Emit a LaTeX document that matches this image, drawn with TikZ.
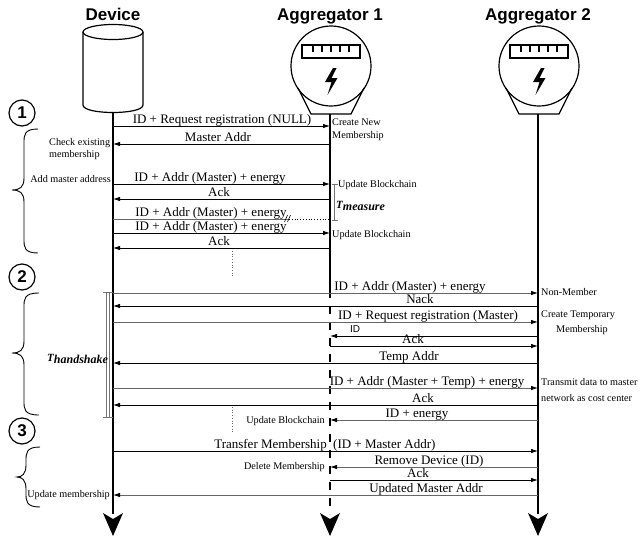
\documentclass[tikz,border=0pt]{standalone}
\usepackage{fontspec}
\setmainfont{Liberation Serif}
\newfontfamily\hsans{Liberation Sans}
\usetikzlibrary{arrows.meta}
\newcommand\mymsg[5]{%
  \coordinate (#1s) at (#3,#2);
  \coordinate (#1e) at (#4,#2);
  \draw[#5] (#1s) -- (#1e);}
\newcommand\mybrace[6]{%
  \draw[line width=0.9pt] (#1,#4) .. controls (#2,#4) and (#2,#4+6) .. (#2,#4+14)
    -- (#2,#5-12) .. controls (#2,#5-3) and (#2-4,#5) .. (#3,#5)
    .. controls (#2-4,#5) and (#2,#5+3) .. (#2,#5+12)
    -- (#2,#6-14) .. controls (#2,#6-6) and (#2,#6) .. (#1,#6);}
\newcommand\mymeter[1]{%
  \begin{scope}[shift={(#1,0)}]
    \draw[line width=1.2pt] (-33,88) -- (-20,114) -- (20,114) -- (33,88);
    \draw[line width=1.2pt] (0,66) circle[radius=40];
    \draw[line width=2.8pt] (-29,45) rectangle (29,58);
    \foreach \tx in {-18,-9,0,9,18} \draw[line width=1.8pt] (\tx,45) -- (\tx,52);
    \fill (2,68) -- (-6,82) -- (0.5,82) -- (-3.5,95) -- (6.5,78) -- (0.5,78) -- (5.5,68) -- cycle;
  \end{scope}}
\newcommand\myhead[1]{\fill (#1-10,513) -- (#1,536) -- (#1+10,513) -- (#1,519) -- cycle;}
\begin{document}
\begin{tikzpicture}[x=1pt,y=-1pt,
  msg/.style={line width=0.8pt,-{Latex[length=7pt,width=4.5pt]}},
  gmsg/.style={msg,draw=black!60,-{Latex[length=7pt,width=4.5pt,fill=black,color=black]}},
  lbl/.style={font=\fontsize{13}{13}\selectfont,inner sep=0pt,anchor=base},
  note/.style={font=\fontsize{10.2}{12}\selectfont,inner sep=0pt},
  hdr/.style={font=\hsans\bfseries\fontsize{17}{17}\selectfont,inner sep=0pt,anchor=base},
  life/.style={line width=1.4pt},
  numc/.style={circle,draw,line width=1.2pt,minimum size=26pt,inner sep=0pt,font=\hsans\bfseries\fontsize{17}{17}\selectfont},
  tlbl/.style={font=\bfseries\itshape\fontsize{12}{12}\selectfont,inner sep=0pt,anchor=base west}]
\useasboundingbox (0,0) rectangle (640,539);
\fill[white] (0,0) rectangle (640,539);
% headers
\node[hdr] (hD) at (113,20) {Device};
\node[hdr] (hA) at (330,20) {Aggregator 1};
\node[hdr] (hB) at (538,20) {Aggregator 2};
% device cylinder
\draw[line width=1.2pt] (83,32) -- (83,105) .. controls (83,115) and (143,115) .. (143,105) -- (143,32);
\draw[line width=1.2pt] (113,32) ellipse[x radius=30,y radius=7.5];
% meters
\mymeter{331}
\mymeter{539}
% lifelines
\coordinate (Dtop) at (113,113); \coordinate (Dbot) at (113,514);
\coordinate (Atop) at (330,114); \coordinate (Amid) at (330,290); \coordinate (Abot) at (330,514);
\coordinate (Btop) at (538,114); \coordinate (Bbot) at (538,514);
\draw[life] (Dtop) -- (Dbot);
\draw[life] (Atop) -- (Amid);
\draw[life,dash pattern=on 8pt off 8pt] (Amid) -- (Abot);
\draw[life] (Btop) -- (Bbot);
\myhead{113}\myhead{330}\myhead{538}
% phase 1
\mymsg{m1}{126}{113}{330}{msg}
\node[lbl] (l1) at (222,123.5) {ID + Request registration (NULL)};
\mymsg{m2}{144}{330}{113}{msg}
\node[lbl] (l2) at (218,141) {Master Addr};
\mymsg{m3}{184}{113}{330}{msg}
\node[lbl] (l3) at (210,181) {ID + Addr (Master) + energy};
\mymsg{m4}{199}{330}{113}{msg}
\node[lbl] (l4) at (219,196) {Ack};
\coordinate (m5s) at (113,219); \coordinate (m5k) at (289,219); \coordinate (m5e) at (330,219);
\draw[line width=0.8pt,black!60] (m5s) -- (m5k);
\draw[line width=0.8pt,dotted] (m5k) -- (m5e);
\draw[line width=0.6pt] (284.5,222) -- (287.5,215) (287.5,222) -- (290.5,215);
\node[lbl] (l5) at (211,216) {ID + Addr (Master) + energy};
\mymsg{m6}{233}{113}{330}{msg}
\node[lbl] (l6) at (211,230) {ID + Addr (Master) + energy};
\mymsg{m7}{248}{330}{113}{msg}
\node[lbl] (l7) at (219,245) {Ack};
\draw[dotted,line width=0.7pt,black!60] (232,251) -- (232,277);
% phase 1 notes
\node[note,anchor=base west] (c1) at (332,125) {Create New};
\node[note,anchor=base west] (c2) at (332,138) {Membership};
\node[note,anchor=base west] (k1) at (49,145) {Check existing};
\node[note,anchor=base west] (k2) at (49,157) {membership};
\node[note,anchor=base east] (k3) at (111,182) {Add master address};
\node[note,anchor=base west] (u1) at (338,187) {Update Blockchain};
\node[note,anchor=base west] (u2) at (332,237) {Update Blockchain};
\draw[black!55,line width=1pt] (331.5,184) -- (337.5,184) (334.5,184) -- (334.5,220) (331.5,220) -- (337.5,220);
\node[tlbl] (tm) at (336,210) {\raisebox{1.5pt}{\fontsize{11}{11}\selectfont T}measure};
% phase 2
\mymsg{m8}{293}{113}{538}{gmsg}
\node[lbl] (l8) at (410,290) {ID + Addr (Master) + energy};
\mymsg{m9}{306}{538}{113}{msg}
\node[lbl] (l9) at (420,303) {Nack};
\mymsg{m10}{322}{113}{538}{gmsg}
\node[lbl] (l10) at (428,319) {ID + Request registration (Master)};
\mymsg{m11}{336}{538}{330}{msg}
\node[inner sep=0pt,anchor=base,font=\hsans\fontsize{10}{10}\selectfont] (l11) at (355,332) {ID};
\mymsg{m12}{346}{330}{538}{msg}
\node[lbl] (l12) at (413,343) {Ack};
\mymsg{m13}{363}{538}{113}{msg}
\node[lbl] (l13) at (409,360) {Temp Addr};
\mymsg{m14}{388}{113}{538}{gmsg}
\node[lbl] (l14) at (427,385) {ID + Addr (Master + Temp) + energy};
\mymsg{m15}{405}{538}{113}{msg}
\node[lbl] (l15) at (423,402) {Ack};
\mymsg{m16}{420}{538}{330}{gmsg}
\node[lbl] (l16) at (417,417) {ID + energy};
\draw[dotted,line width=0.7pt,black!60] (232,407) -- (232,433);
% phase 2 notes
\node[note,anchor=base west] (n8) at (541,295) {Non-Member};
\node[note,anchor=base west] (n10a) at (541,317) {Create Temporary};
\node[note,anchor=base west] (n10b) at (556,332) {Membership};
\node[note,anchor=base west] (n14a) at (541,385) {Transmit data to master};
\node[note,anchor=base west] (n14b) at (541,401) {network as cost center};
\node[note,anchor=base east] (n16) at (325,423) {Update Blockchain};
\draw[black!55,line width=0.9pt] (103,292) -- (113,292) (106,292) -- (106,417) (109.5,292) -- (109.5,417) (103,417) -- (113,417);
\node[tlbl] (th) at (47,363) {\raisebox{1.5pt}{\fontsize{11}{11}\selectfont T}handshake};
% phase 3
\mymsg{m17}{451}{113}{538}{msg}
\node[lbl,anchor=base east] (l17a) at (327,448) {Transfer Membership};
\node[lbl,anchor=base west] (l17b) at (333,448) {(ID + Master Addr)};
\mymsg{m18}{467}{538}{330}{gmsg}
\node[lbl] (l18) at (429,464) {Remove Device (ID)};
\mymsg{m19}{480}{330}{538}{msg}
\node[lbl] (l19) at (418,477) {Ack};
\mymsg{m20}{495}{538}{113}{gmsg}
\node[lbl] (l20) at (426,492) {Updated Master Addr};
\node[note,anchor=base east] (n18) at (325,469) {Delete Membership};
\node[note,anchor=base east] (n20) at (110,497) {Update membership};
% phase markers
\node[numc] (p1) at (22,113) {1};
\node[numc] (p2) at (22,277) {2};
\node[numc] (p3) at (22,431) {3};
\mybrace{38}{24}{12}{129}{190}{253}
\mybrace{39}{24}{12}{293}{353}{415}
\mybrace{40}{26}{17}{447}{477}{507}
\end{tikzpicture}
\end{document}
